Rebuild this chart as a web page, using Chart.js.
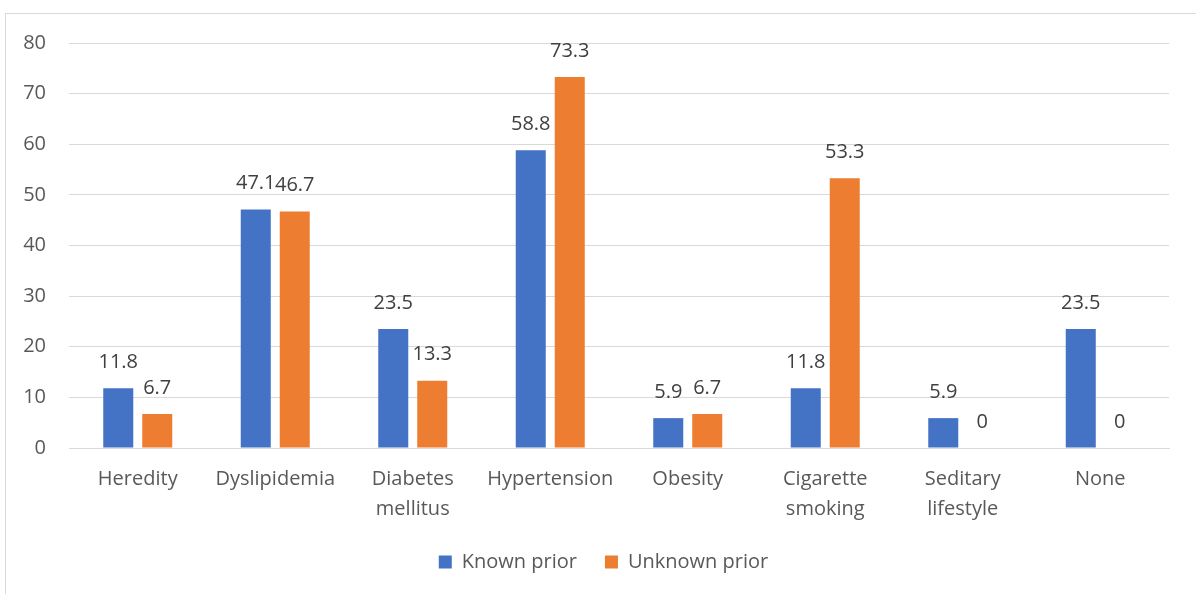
<!DOCTYPE html>
<html>
<head>
<meta charset="utf-8">
<script src="https://cdn.jsdelivr.net/npm/chart.js@4/dist/chart.umd.min.js"></script>
<style>
  html, body { margin: 0; padding: 0; background: #fff; overflow: hidden; }
  #frame {
    position: absolute; left: 5px; top: 13px;
    width: 1200px; height: 600px;
    border: 1px solid #d9d9d9;
  }
  #chart { display: block; }
</style>
</head>
<body>
<div id="frame">
  <canvas id="chart" width="1190" height="580"></canvas>
</div>
<script>
// Risk factors, percentage of patients per group
const categories = [
    'Heredity', 'Dyslipidemia', ['Diabetes', 'mellitus'], 'Hypertension',
    'Obesity', ['Cigarette', 'smoking'], ['Seditary', 'lifestyle'], 'None'
];
const knownPrior = [11.8, 47.1, 23.5, 58.8, 5.9, 11.8, 5.9, 23.5];
const unknownPrior = [6.7, 46.7, 13.3, 73.3, 6.7, 53.3, 0, 0];
const yTicks = [0, 10, 20, 30, 40, 50, 60, 70, 80];

const FONT = "'Open Sans', sans-serif";

// Draws the value above each bar
const valueLabels = {
    id: 'valueLabels',
    afterDatasetsDraw(chart) {
        const ctx = chart.ctx;
        ctx.save();
        ctx.font = '20px ' + FONT;
        ctx.fillStyle = '#404040';
        ctx.textAlign = 'center';
        ctx.textBaseline = 'middle';
        chart.data.datasets.forEach((ds, i) => {
            chart.getDatasetMeta(i).data.forEach((bar, j) => {
                ctx.fillText(String(ds.data[j]), bar.x, bar.y - 26);
            });
        });
        ctx.restore();
    }
};

// Legend sits centred under the plot area rather than the whole canvas
const legendShift = {
    id: 'legendShift',
    afterLayout(chart) {
        chart.legend.left += 16;
        chart.legend.right += 16;
    }
};

function initRiskChart() {
    const ctx = document.getElementById('chart').getContext('2d');

    new Chart(ctx, {
        type: 'bar',
        data: {
            labels: categories,
            datasets: [
                {
                    label: 'Known prior',
                    data: knownPrior,
                    backgroundColor: '#4472C4'
                },
                {
                    label: 'Unknown prior',
                    data: unknownPrior,
                    backgroundColor: '#ED7D31'
                }
            ]
        },
        options: {
            responsive: false,
            animation: false,
            categoryPercentage: 0.567,
            barPercentage: 0.77,
            layout: {
                padding: { left: 0, right: 27, top: 29, bottom: 12 }
            },
            plugins: {
                legend: {
                    position: 'bottom',
                    labels: {
                        boxWidth: 13,
                        boxHeight: 13,
                        padding: 28,
                        color: '#595959',
                        font: { family: FONT, size: 20 }
                    }
                },
                tooltip: { enabled: false }
            },
            scales: {
                x: {
                    grid: { display: false },
                    border: { color: '#d9d9d9', width: 1 },
                    ticks: {
                        color: '#595959',
                        padding: 8,
                        maxRotation: 0,
                        font: { family: FONT, size: 20, lineHeight: 1.5 }
                    },
                    afterFit: (scale) => { scale.height = 76; }
                },
                y: {
                    min: 0,
                    max: 80,
                    afterBuildTicks: (scale) => {
                        scale.ticks = yTicks.map(v => ({ value: v }));
                    },
                    grid: { color: '#d9d9d9', lineWidth: 1, drawTicks: false },
                    border: { display: false },
                    ticks: {
                        color: '#595959',
                        padding: 23,
                        font: { family: FONT, size: 20 }
                    },
                    afterFit: (scale) => {
                        scale.width = 63;
                        scale.paddingTop = 0;
                        scale.paddingBottom = 0;
                    }
                }
            }
        },
        plugins: [valueLabels, legendShift]
    });
}

initRiskChart();
</script>
</body>
</html>
